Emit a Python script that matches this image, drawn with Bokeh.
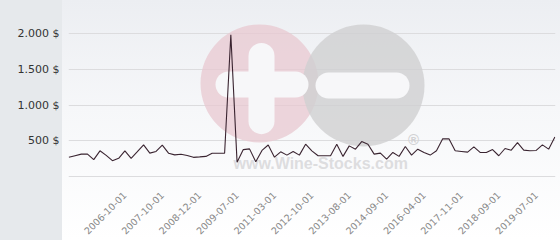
import math
from bokeh.plotting import figure
from bokeh.models import FixedTicker, Range1d
from bokeh.core.properties import value
from bokeh.embed import file_html
from bokeh.resources import INLINE

# ---- data ----
prices = [272, 295, 317, 317, 240, 363, 300, 225, 258, 363,
          258, 350, 446, 331, 354, 443, 330, 306, 315, 298,
          272, 278, 285, 329, 329, 329, 1980, 205, 380, 390,
          210, 368, 444, 274, 349, 303, 354, 303, 455, 363,
          294, 294, 294, 455, 285, 432, 386, 492, 455, 317,
          331, 248, 340, 285, 423, 303, 386, 340, 303, 363,
          530, 532, 363, 354, 345, 418, 340, 340, 381, 294,
          395, 372, 478, 372, 363, 368, 446, 386, 556]
point_index = list(range(len(prices)))
x_tick_index = [9, 15, 21, 27, 33, 39, 45, 51, 57, 63, 69, 75]
x_tick_labels = ["2006-10-01", "2007-10-01", "2008-12-01", "2009-07-01",
                 "2011-03-01", "2012-10-01", "2013-08-01", "2014-09-01",
                 "2016-04-01", "2017-11-01", "2018-09-01", "2019-07-01"]
y_ticks = [500, 1000, 1500, 2000]
y_tick_labels = ["500 $", "1.000 $", "1.500 $", "2.000 $"]
grid_ticks = [0, 500, 1000, 1500, 2000]

# ---- layout ----
W, H = 560, 240
FL, FR, FT, FB = 68, 555, 0, 182
X0, X1 = -0.05, 78.1
Y0, Y1 = -51, 2459

def dx(px):
    return X0 + (px - FL) * (X1 - X0) / (FR - FL)

def dy(py):
    return Y1 - (py - FT) * (Y1 - Y0) / (FB - FT)

p = figure(width=W, height=H, output_backend="svg", toolbar_location=None,
           x_range=Range1d(X0, X1), y_range=Range1d(Y0, Y1),
           min_border_left=FL, min_border_right=W - FR,
           min_border_top=FT, min_border_bottom=H - FB)
p.outline_line_color = None
p.border_fill_color = None
p.background_fill_color = None
# page background: grey left panel over a soft vertical gradient
p.styles = {
    "background-image": ("linear-gradient(to right, #e6e9ec 0px, #e6e9ec 62px, "
                         "rgba(0,0,0,0) 62px), "
                         "linear-gradient(to bottom, #eceef2 0%, #f6f7f9 45%, #ffffff 100%)"),
}

# watermark (decoration)
p.circle(x=[dx(259)], y=[dy(84)], radius=59, radius_units="screen",
         fill_color="#e8c8d0", fill_alpha=0.75, line_color=None)
p.circle(x=[dx(363)], y=[dy(86)], radius=61, radius_units="screen",
         fill_color="#cfcfd1", fill_alpha=0.8, line_color=None)
p.segment(x0=[dx(228), dx(261), dx(328)], y0=[dy(85), dy(56), dy(86)],
          x1=[dx(295), dx(261), dx(396)], y1=[dy(85), dy(122), dy(86)],
          line_color="#f7f7f9", line_width=26, line_cap="round")
p.text(x=[dx(233)], y=[dy(165)], text=["www.Wine-Stocks.com"],
       text_font=value("Liberation Sans"), text_font_style="bold",
       text_font_size="16px", text_color="#d9d9db", text_alpha=0.9,
       text_baseline="alphabetic", text_align="left")
p.text(x=[dx(413)], y=[dy(141)], text=["®"],
       text_font=value("Liberation Sans"), text_font_style="bold",
       text_font_size="15px", text_color="#d2d2d4",
       text_baseline="middle", text_align="center")

# price line
p.line(x=point_index, y=prices, line_color="#3a2430", line_width=1.1)

# grid
p.xgrid.grid_line_color = None
p.ygrid.ticker = FixedTicker(ticks=grid_ticks)
p.ygrid.grid_line_color = "#dcdcde"
p.ygrid.grid_line_width = 1

# y axis
ya = p.yaxis[0]
ya.ticker = FixedTicker(ticks=y_ticks)
ya.major_label_overrides = dict(zip(y_ticks, y_tick_labels))
ya.axis_line_color = None
ya.major_tick_line_color = None
ya.minor_tick_line_color = None
ya.major_tick_in = 0
ya.major_tick_out = 0
ya.major_label_standoff = 9
ya.major_label_text_font = "DejaVu Sans"
ya.major_label_text_font_size = "11px"
ya.major_label_text_color = "#333333"

# x axis
xa = p.xaxis[0]
xa.ticker = FixedTicker(ticks=x_tick_index)
xa.major_label_overrides = dict(zip(x_tick_index, x_tick_labels))
xa.major_label_orientation = math.pi / 4
xa.axis_line_color = None
xa.major_tick_line_color = None
xa.minor_tick_line_color = None
xa.major_tick_in = 0
xa.major_tick_out = 0
xa.major_label_standoff = 13
xa.major_label_text_font = "DejaVu Sans"
xa.major_label_text_font_size = "9.5px"
xa.major_label_text_color = "#888888"

open("out.html", "w").write(file_html(p, INLINE))
